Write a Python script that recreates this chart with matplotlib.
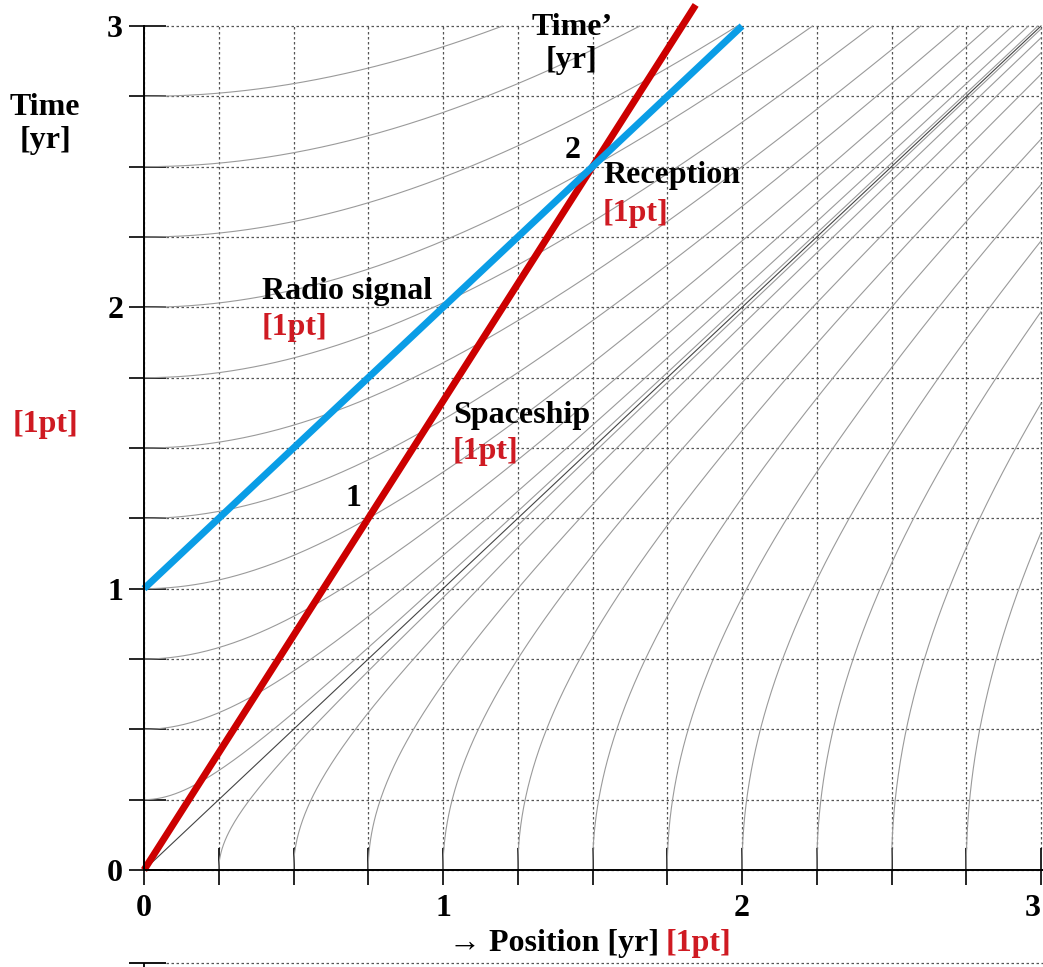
import matplotlib.pyplot as plt
import numpy as np

plt.rcParams["font.family"] = ["Liberation Serif", "DejaVu Serif"]
plt.rcParams["font.weight"] = "bold"

# Tick positions and labels (both axes, years)
tick_positions = [0, 0.25, 0.5, 0.75, 1, 1.25, 1.5, 1.75, 2, 2.25, 2.5, 2.75, 3]
tick_labels = ["0", "", "", "", "1", "", "", "", "2", "", "", "", "3"]

# Hyperbola levels: timelike (through (0, tau)) and spacelike (through (xi, 0))
tau_levels = [0.25, 0.5, 0.75, 1.0, 1.25, 1.5, 1.75, 2.0, 2.25, 2.5, 2.75]
xi_levels = [0.25, 0.5, 0.75, 1.0, 1.25, 1.5, 1.75, 2.0, 2.25, 2.5, 2.75]
light_cone = [0, 3]

# Spaceship world line (v = 0.6 c) and radio signal
ship_speed = 0.6
ship_t = [0, 3.075]
signal_x = [0, 2]
signal_t = [1, 3]

# proper time marks on the ship's world line
proper_marks = ["1", "2"]

RED = "#cc0000"
RED_TXT = "#cf1a22"
BLUE = "#0a9de6"
FS = 23

fig = plt.figure(figsize=(10.43, 9.67), dpi=100)
ax = fig.add_axes([0, 0, 1, 1])
ax.set_xlim(-144 / 299, 899 / 299)
ax.set_ylim(-97 / 281.33, 870 / 281.33)

# grid, only inside the diagram
ax.hlines(tick_positions, 0.075, 3, colors="#555555", linestyles=(0, (2, 2)), linewidth=0.9, zorder=1)
ax.vlines(tick_positions, 0.075, 3, colors="#555555", linestyles=(0, (2, 2)), linewidth=0.9, zorder=1)

# stub of the panel below
ax.hlines(-0.33, 0.075, 3.01, colors="#555555", linestyles=(0, (2, 2)), linewidth=0.9)
ax.hlines(-0.33, -0.05, 0.075, colors="black", linewidth=1.3)
ax.vlines(0, -0.345, -0.33, colors="black", linewidth=1.3)

# hyperbolas
for tau in tau_levels:
    x = np.linspace(0, np.sqrt(9 - tau**2), 400)
    ax.plot(x, np.sqrt(x**2 + tau**2), color="#9a9a9a", linewidth=0.8, zorder=2)
for xi in xi_levels:
    t = np.linspace(0, np.sqrt(9 - xi**2), 400)
    ax.plot(np.sqrt(t**2 + xi**2), t, color="#9a9a9a", linewidth=0.8, zorder=2)
ax.plot(light_cone, light_cone, color="#444444", linewidth=0.8, zorder=2)

# world lines
ship_x = [t * ship_speed for t in ship_t]
ax.plot(ship_x, ship_t, color=RED, linewidth=5, solid_capstyle="butt", zorder=4)
ax.plot(signal_x, signal_t, color=BLUE, linewidth=5, solid_capstyle="butt", zorder=5)

# axes
for s in ["top", "right"]:
    ax.spines[s].set_visible(False)
ax.spines["left"].set_position(("data", 0))
ax.spines["bottom"].set_position(("data", 0))
ax.spines["left"].set_bounds(0, 3)
ax.spines["bottom"].set_bounds(0, 3.01)
ax.spines["left"].set_linewidth(1.4)
ax.spines["bottom"].set_linewidth(1.4)
ax.spines["left"].set_zorder(6)
ax.spines["bottom"].set_zorder(6)

ax.set_xticks(tick_positions, tick_labels)
ax.set_yticks(tick_positions, tick_labels)
ax.set_xticks(tick_positions, minor=True)
ax.set_yticks(tick_positions, minor=True)
ax.xaxis.remove_overlapping_locs = False
ax.yaxis.remove_overlapping_locs = False
ax.tick_params(which="major", direction="in", length=16, width=1.2, labelsize=FS)
ax.tick_params(which="minor", direction="out", length=11, width=1.2)
ax.tick_params(axis="x", which="major", pad=17)
ax.tick_params(axis="y", which="major", pad=15)
# last x label sits against the right edge
ax.get_xticklabels()[-1].set_horizontalalignment("right")

# labels
ax.text(-0.331, 2.652, "Time\n[yr]", ha="center", va="center", fontsize=FS, linespacing=1.15)
ax.text(-0.331, 1.582, "[1pt]", ha="center", va="center", fontsize=FS, color=RED_TXT)
ax.text(1.431, 2.936, "Time\u2019\n[yr]", ha="center", va="center", fontsize=FS, linespacing=1.15)
ax.text(0.395, 2.055, "Radio signal", ha="left", va="center", fontsize=FS)
ax.text(0.395, 1.927, "[1pt]", ha="left", va="center", fontsize=FS, color=RED_TXT)
ax.text(1.033, 1.617, "Spaceship", ha="left", va="center", fontsize=FS)
ax.text(1.033, 1.486, "[1pt]", ha="left", va="center", fontsize=FS, color=RED_TXT)
ax.text(1.535, 2.467, "Reception", ha="left", va="center", fontsize=FS)
ax.text(1.535, 2.335, "[1pt]", ha="left", va="center", fontsize=FS, color=RED_TXT)
ax.text(0.702, 1.322, proper_marks[0], ha="center", va="center", fontsize=FS)
ax.text(1.435, 2.559, proper_marks[1], ha="center", va="center", fontsize=FS)

ax.text(1.722, -0.2595, "\u2192 Position [yr]", ha="right", va="center", fontsize=FS)
ax.text(1.746, -0.2595, "[1pt]", ha="left", va="center", fontsize=FS, color=RED_TXT)

fig.savefig("out.png", dpi=100)
